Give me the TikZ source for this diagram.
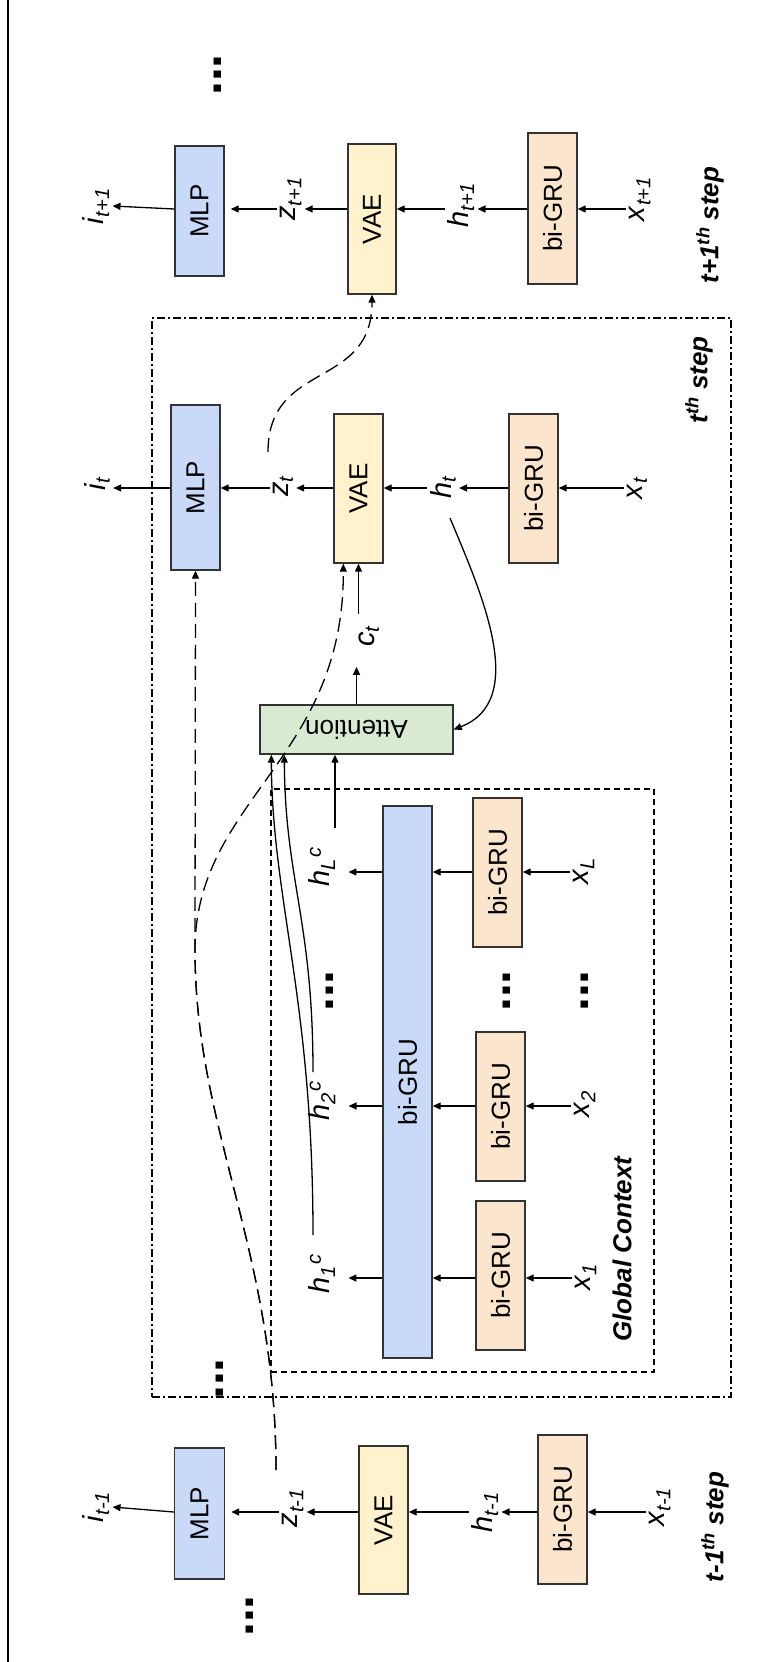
\documentclass[tikz,border=0pt]{standalone}
\usepackage{fontspec}
\setmainfont{Liberation Sans}
\usepackage{graphicx}
\usetikzlibrary{arrows.meta,calc}
\definecolor{cblue}{HTML}{C9DAF8}
\definecolor{cyel}{HTML}{FFF2CC}
\definecolor{corg}{HTML}{FCE5CD}
\definecolor{cgrn}{HTML}{D9EAD3}
\definecolor{edgec}{HTML}{333333}
\newcommand{\R}[1]{\rotatebox{90}{#1}}
\newcommand{\BoxFont}{\fontsize{26}{30}\selectfont}
\newcommand{\LabFont}{\fontsize{29}{33}\selectfont}
\newcommand{\DotFont}{\fontsize{50}{50}\selectfont\bfseries}
\newcommand{\StepFont}{\fontsize{26}{30}\selectfont\bfseries\itshape}
\newcommand{\Lab}[2]{\textit{#1}\textsubscript{\textit{#2}}}
\newcommand{\LabC}[1]{\textit{h}\textsubscript{\textit{#1}}\kern1pt\textsuperscript{\textit{c}}}
\begin{document}
\begin{tikzpicture}[x=1pt,y=-1pt,
  blk/.style={draw=edgec,line width=1.4pt,inner sep=0pt,font=\BoxFont},
  lab/.style={inner sep=3pt,font=\LabFont},
  dots/.style={inner sep=0pt,font=\DotFont},
  steplab/.style={inner sep=0pt,font=\StepFont},
  arr/.style={-{Triangle[length=8pt,width=7pt]},line width=1.3pt},
  darr/.style={arr,dash pattern=on 14pt off 7pt},
  stepframe/.style={draw=black,line width=1.2pt,dash pattern=on 8pt off 3pt on 2pt off 3pt,inner sep=0pt},
  gcframe/.style={draw=black,line width=1.2pt,dash pattern=on 6pt off 4pt,inner sep=0pt}]
\useasboundingbox (0,0) rectangle (781,1662);
% left border line
\coordinate (lt) at (8,0);
\coordinate (lb) at (8,1662);
\draw[line width=2pt] (lt) -- (lb);

% frames
\node[stepframe,minimum width=579pt,minimum height=1079pt] (tframe) at (441.5,857.5) {};
\node[gcframe,minimum width=383pt,minimum height=583pt] (gframe) at (462.5,1080.5) {};

% row coordinates
\coordinate (rA) at (0,209);
\coordinate (rB) at (0,488);
\coordinate (rC) at (0,1512);
\coordinate (rL) at (0,872);
\coordinate (r2) at (0,1106);
\coordinate (r1) at (0,1278);

% t+1 step
\node[blk,fill=cblue,minimum width=49pt,minimum height=130pt] (mlpA) at (199.5,211) {\R{MLP}};
\node[blk,fill=cyel,minimum width=48pt,minimum height=150pt] (vaeA) at (372,219) {\R{VAE}};
\node[blk,fill=corg,minimum width=49pt,minimum height=151pt] (gruA) at (552.5,208.5) {\R{bi-GRU}};
\node[lab] (iA) at (96,206) {\R{\Lab{i}{t+1}}};
\node[lab] (zA) at (291,199) {\R{\Lab{z}{t+1}}};
\node[lab] (hA) at (461,205) {\R{\Lab{h}{t+1}}};
\node[lab] (xA) at (640,199) {\R{\Lab{x}{t+1}}};
\node[steplab] (stA) at (710,225) {\R{t+1\textsuperscript{th} step}};

% t step
\node[blk,fill=cblue,minimum width=49pt,minimum height=165pt] (mlpB) at (195.5,487.5) {\R{MLP}};
\node[blk,fill=cyel,minimum width=49pt,minimum height=149pt] (vaeB) at (358.5,488.5) {\R{VAE}};
\node[blk,fill=corg,minimum width=49pt,minimum height=149pt] (gruB) at (533.5,488.5) {\R{bi-GRU}};
\node[lab] (iB) at (97,484) {\R{\Lab{i}{t}}};
\node[lab] (zB) at (283,486) {\R{\Lab{z}{t}}};
\node[lab] (hB) at (443,487) {\R{\Lab{h}{t}}};
\node[lab] (xB) at (637,488) {\R{\Lab{x}{t}}};
\node[steplab] (stB) at (699,380) {\R{t\textsuperscript{th} step}};
\node[blk,fill=cgrn,minimum width=193pt,minimum height=49pt] (att) at (356.5,729.5) {\rotatebox{180}{Attention}};
\node[lab] (cB) at (369,636) {\R{\Lab{c}{t}}};

% global context
\node[blk,fill=cblue,minimum width=49pt,minimum height=552pt] (big) at (407.5,1082) {\R{bi-GRU}};
\node[blk,fill=corg,minimum width=49pt,minimum height=149pt] (gL) at (497.5,872.5) {\R{bi-GRU}};
\node[blk,fill=corg,minimum width=49pt,minimum height=149pt] (g2) at (500.5,1106.5) {\R{bi-GRU}};
\node[blk,fill=corg,minimum width=49pt,minimum height=149pt] (g1) at (500.5,1275.5) {\R{bi-GRU}};
\node[lab] (hL) at (322,867) {\R{\LabC{L}}};
\node[lab] (h2) at (322,1101) {\R{\LabC{2}}};
\node[lab] (h1) at (322,1274) {\R{\LabC{1}}};
\node[lab] (xL) at (584,871) {\R{\Lab{x}{L}}};
\node[lab] (x2) at (585,1104) {\R{\Lab{x}{2}}};
\node[lab] (x1) at (586,1277) {\R{\Lab{x}{1}}};
\node[steplab] (gctx) at (622,1249) {\R{Global Context}};

% t-1 step
\node[blk,fill=cblue,minimum width=50pt,minimum height=131pt] (mlpC) at (199.5,1513.5) {\R{MLP}};
\node[blk,fill=cyel,minimum width=49pt,minimum height=148pt] (vaeC) at (383.5,1520) {\R{VAE}};
\node[blk,fill=corg,minimum width=49pt,minimum height=149pt] (gruC) at (562.5,1509.5) {\R{bi-GRU}};
\node[lab] (iC) at (96,1507) {\R{\Lab{i}{t-1}}};
\node[lab] (zC) at (293,1508) {\R{\Lab{z}{t-1}}};
\node[lab] (hC) at (485,1512) {\R{\Lab{h}{t-1}}};
\node[lab] (xC) at (660,1507) {\R{\Lab{x}{t-1}}};
\node[steplab] (stC) at (715,1527) {\R{t-1\textsuperscript{th} step}};

% ellipses
\node[dots] (d1) at (218,75) {\R{...}};
\node[dots] (d2) at (330,991) {\R{...}};
\node[dots] (d3) at (507,991) {\R{...}};
\node[dots] (d4) at (585,991) {\R{...}};
\node[dots] (d5) at (220,1379) {\R{...}};
\node[dots] (d6) at (250,1616) {\R{...}};

% row arrows t+1
\draw[arr] (mlpA.west |- rA) -- (iA.east);
\draw[arr,shorten >=6pt] (zA.west |- rA) -- (mlpA.east |- rA);
\draw[arr] (vaeA.west |- rA) -- (zA.east |- rA);
\draw[arr] (hA.west |- rA) -- (vaeA.east |- rA);
\draw[arr] (gruA.west |- rA) -- (hA.east |- rA);
\draw[arr] (xA.west |- rA) -- (gruA.east |- rA);
% row arrows t
\draw[arr] (mlpB.west |- rB) -- (iB.east |- rB);
\draw[arr] (zB.west |- rB) -- (mlpB.east |- rB);
\draw[arr] (vaeB.west |- rB) -- (zB.east |- rB);
\draw[arr] (hB.west |- rB) -- (vaeB.east |- rB);
\draw[arr] (gruB.west |- rB) -- (hB.east |- rB);
\draw[arr] (xB.west |- rB) -- (gruB.east |- rB);
% row arrows t-1
\draw[arr] (mlpC.west |- rC) -- (iC.east);
\draw[arr,shorten >=6pt] (zC.west |- rC) -- (mlpC.east |- rC);
\draw[arr] (vaeC.west |- rC) -- (zC.east |- rC);
\draw[arr] (hC.west |- rC) -- (vaeC.east |- rC);
\draw[arr] (gruC.west |- rC) -- (hC.east |- rC);
\draw[arr] (xC.west |- rC) -- (gruC.east |- rC);
% global context rows
\draw[arr,shorten >=10pt] (big.west |- rL) -- (hL.east |- rL);
\draw[arr] (gL.west |- rL) -- (big.east |- rL);
\draw[arr] (xL.west |- rL) -- (gL.east |- rL);
\draw[arr,shorten >=10pt] (big.west |- r2) -- (h2.east |- r2);
\draw[arr] (g2.west |- r2) -- (big.east |- r2);
\draw[arr] (x2.west |- r2) -- (g2.east |- r2);
\draw[arr,shorten >=10pt] (big.west |- r1) -- (h1.east |- r1);
\draw[arr] (g1.west |- r1) -- (big.east |- r1);
\draw[arr] (x1.west |- r1) -- (g1.east |- r1);

% attention connections
\coordinate (sL) at (335,828);
\coordinate (s2) at (313,1072);
\coordinate (s1) at (313,1235);
\coordinate (sh) at (450,518);
\draw[arr] (sL) -- (sL |- att.south);
\draw[arr] (s2) .. controls (313,920) and (285,880) .. ([xshift=25pt]att.south west);
\draw[arr] (s1) .. controls (313,1000) and (272,900) .. ([xshift=12pt]att.south west);
\draw[arr] (sh) .. controls (480,590) and (530,700) .. (att.east);
\draw[arr,shorten >=17pt] (att.north) -- (att.north |- cB.south);
\draw[arr,shorten <=8pt] (cB.north -| vaeB.south) -- (vaeB.south);

% dashed connectors
\coordinate (sB) at (268,452);
\coordinate (sC) at (276,1470);
\draw[darr] (sB) .. controls (268,360) and (372,390) .. (vaeA.south);
\draw[darr] (sC) .. controls (276,1250) and (195,1130) .. (195,950) -- (mlpB.south);
\draw[darr] (sC) .. controls (276,1250) and (195,1130) .. (195,950) .. controls (195,800) and (344,760) .. ([xshift=10pt]vaeB.south west);
\end{tikzpicture}
\end{document}
